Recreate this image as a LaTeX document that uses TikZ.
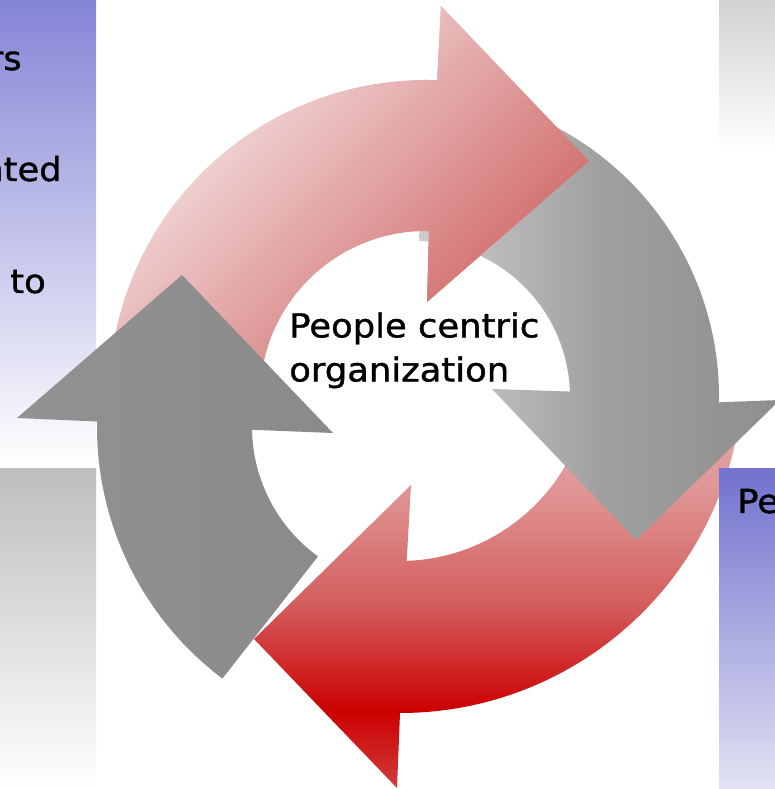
\documentclass[tikz,border=0pt]{standalone}
\usepackage{fontspec}
\setmainfont{DejaVu Sans}[FakeStretch=1.07,FakeBold=1.2]
\usetikzlibrary{calc}

\definecolor{paneblue}{HTML}{8484D6}
\definecolor{paneblueb}{HTML}{7272CF}
\definecolor{panebluec}{HTML}{E2E2F3}
\definecolor{panegray}{HTML}{BEBEBE}
\definecolor{panegrayb}{HTML}{D2D2D2}
\definecolor{pinkpale}{HTML}{F8EEEE}
\definecolor{pinkdeep}{HTML}{CB5656}
\definecolor{redpale}{HTML}{E8A8A8}
\definecolor{redtop}{HTML}{E09696}
\definecolor{redmid}{HTML}{D45E5E}
\definecolor{reddeep}{HTML}{CC0000}
\definecolor{redlow}{HTML}{D03C3C}
\definecolor{greylight}{HTML}{CDCDCD}
\definecolor{greymid}{HTML}{A0A0A0}
\definecolor{greydark}{HTML}{8E8E8E}
\definecolor{greyleft}{HTML}{929292}
\definecolor{greyright}{HTML}{8A8A8A}

\pgfdeclareverticalshading{redband}{100bp}{color(0bp)=(redlow); color(25bp)=(redlow); color(35bp)=(reddeep); color(49bp)=(redmid); color(64bp)=(redtop); color(75bp)=(redpale); color(100bp)=(redpale)}

\tikzset{
  pinkarrow/.style={top color=pinkpale, bottom color=pinkdeep, shading angle=45},
  redarrow/.style={shading=redband},
  lightgrey/.style={left color=greylight, right color=greydark, middle color=greymid},
  darkgrey/.style={left color=greyleft, right color=greyright},
  cyclelabel/.style={font=\fontsize{23.5}{31.3}\selectfont, inner sep=0pt, text=black}
}

\begin{document}
\begin{tikzpicture}[x=0.025cm,y=0.025cm]
\useasboundingbox (0,0) rectangle (775,789);
\clip (0,0) rectangle (775,789);
\fill[white] (0,0) rectangle (775,789);
\shade[top color=paneblue, bottom color=white] (0,327) rectangle (96,789);
\shade[top color=panegray, bottom color=white] (0,0) rectangle (96,320);
\shade[top color=panegrayb, bottom color=white] (719,639) rectangle (775,789);

\path (426,392) coordinate (c1);
\path (414,392) coordinate (c2);
\path (400,419) coordinate (c3);
\path (412,362) coordinate (c4);
\path (c1) ++(185:317) coordinate (t1o);
\path (c1) ++(89:166) coordinate (h1i);
\path (c2) ++(88:305) coordinate (t2o);
\path (c2) ++(2:156) coordinate (h2i);
\path (c3) ++(-10:343) coordinate (t3o);
\path (c3) ++(-88:191) coordinate (h3i);
\path (c4) ++(233:315) coordinate (t4o);
\path (c4) ++(181:160) coordinate (h4i);
\path (441,783) coordinate (h1a) (589,628) coordinate (tip1) (427,487) coordinate (h1b);
\path (780,389) coordinate (h2a) (636,249) coordinate (tip2) (492,400) coordinate (h2b);
\path (397,1) coordinate (h3a) (254,150) coordinate (tip3) (411,304) coordinate (h3b);
\path (17,371) coordinate (h4a) (182,514) coordinate (tip4) (333,356) coordinate (h4b);

\shade[pinkarrow] (t1o) arc[start angle=185,end angle=88,radius=317] -- (h1a) -- (tip1) -- (h1b) -- (h1i) arc[start angle=89,end angle=185,radius=166] -- cycle;
\shade[darkgrey] (t4o) arc[start angle=233,end angle=179,radius=315] -- (h4a) -- (tip4) -- (h4b) -- (h4i) arc[start angle=181,end angle=234,radius=160] -- cycle;
\shade[redarrow] (t3o) arc[start angle=-10,end angle=-90,radius=343] -- (h3a) -- (tip3) -- (h3b) -- (h3i) arc[start angle=-88,end angle=-10,radius=191] -- cycle;
\shade[lightgrey] (t2o) arc[start angle=88,end angle=-1,radius=305] -- (h2a) -- (tip2) -- (h2b) -- (h2i) arc[start angle=2,end angle=88,radius=156] -- cycle;
\begin{scope}
\clip (415,0) rectangle (775,789);
\shade[pinkarrow] (t1o) arc[start angle=185,end angle=88,radius=317] -- (h1a) -- (tip1) -- (h1b) -- (h1i) arc[start angle=89,end angle=185,radius=166] -- cycle;
\end{scope}

\shade[top color=paneblueb, bottom color=panebluec] (719,0) rectangle (775,320);

\node[cyclelabel, anchor=base east] (rs) at (22,719) {rs};
\node[cyclelabel, anchor=base east] (nted) at (62,608) {nted};
\node[cyclelabel, anchor=base west] (to) at (10,496) {to};
\node[cyclelabel, anchor=base west] (pe) at (737,276) {Pe};
\node[cyclelabel, align=left, anchor=north west] (hub) at (289,477) {People centric\\organization};
\end{tikzpicture}
\end{document}
